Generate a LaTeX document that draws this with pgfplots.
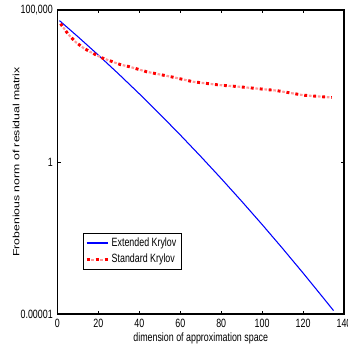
\documentclass[border=0pt]{standalone}
\usepackage{pgfplots}
\pgfplotsset{compat=1.18}
\usepackage{graphicx}
\usepackage{fontspec}
\setmainfont{Liberation Sans}[FakeStretch=0.74]
\newfontfamily\ylfont{Liberation Sans}
\definecolor{mblue}{RGB}{0,0,255}
\begin{document}
\begin{tikzpicture}
\begin{axis}[
  scale only axis, width=214.9pt, height=228pt,
  ymode=log, xmin=0, xmax=140, ymin=1e-5, ymax=1e5,
  xtick={0,20,...,140},
  ytick={1e-5,1,1e5}, yticklabels={0.00001,1,{100,000}},
  yminorticks=false,
  /pgf/number format/assume math mode=true,
  tick align=inside, major tick length=2.5pt,
  axis line style={line width=0.9pt},
  tick style={black, line width=0.6pt},
  font=\fontsize{9}{10.5}\selectfont,
  tick label style={font=\fontsize{9}{10.5}\selectfont},
  label style={font=\fontsize{9}{10.5}\selectfont},
  xlabel={dimension of approximation space},
  xlabel shift=-3pt,
  ylabel={\scalebox{1}[0.74]{\ylfont\fontsize{9.2}{10.5}\selectfont Frobenious norm of residual matrix}},
  ylabel shift=-6pt,
  legend style={at={(0.089,0.145)}, anchor=south west,
    font=\fontsize{9}{10.5}\selectfont, row sep=0pt, inner sep=1.5pt},
  legend cell align=left,
]
\addplot[color=mblue, line width=0.8pt,
  legend image code/.code={\draw[draw=mblue,line width=1.3pt] (0cm,0.35pt) -- (0.55cm,0.35pt);}] coordinates {
(1,4.47e4) (10,1.323e4) (20,3276) (30,774) (40,174.9) (50,37.7) (60,7.76) (70,1.524) (80,0.286) (90,0.0512) (100,8.77e-3) (110,1.432e-3) (120,2.232e-4) (130,3.32e-5) (134.9,1.29e-5)
};
\addlegendentry{Extended Krylov}
\pgfplotstableread{
x y
1.5 3.55e4
5.3 1.58e4
9 8.71e3
12.9 5.50e3
17.2 3.80e3
21.6 2.69e3
30.5 1.62e3
35.4 1.35e3
43.5 933
56.5 617
66.2 437
79.3 339
88.2 302
107 224
120 158
134 132
}\redtab
\addplot[red!40, line width=1.6pt, dash pattern=on 0pt off 3.5pt on 2pt off 1.25pt, forget plot] table {\redtab};
\addplot[red, line width=2.2pt, dash pattern=on 2.2pt off 4.55pt,
  legend image code/.code={
    \draw[red!40,line width=1.6pt,dash pattern=on 0pt off 3.5pt on 2pt off 1.25pt] (0cm,0cm) -- (0.55cm,0cm);
    \draw[red,line width=2.2pt,dash pattern=on 2.2pt off 4.55pt] (0cm,0cm) -- (0.55cm,0cm);}
] table {\redtab};
\addlegendentry{Standard Krylov}
\end{axis}
\pgfresetboundingbox
\useasboundingbox ([xshift=-43.1pt,yshift=-24.75pt]current axis.south west) rectangle ([xshift=2.25pt,yshift=7.5pt]current axis.north east);
\end{tikzpicture}
\end{document}
